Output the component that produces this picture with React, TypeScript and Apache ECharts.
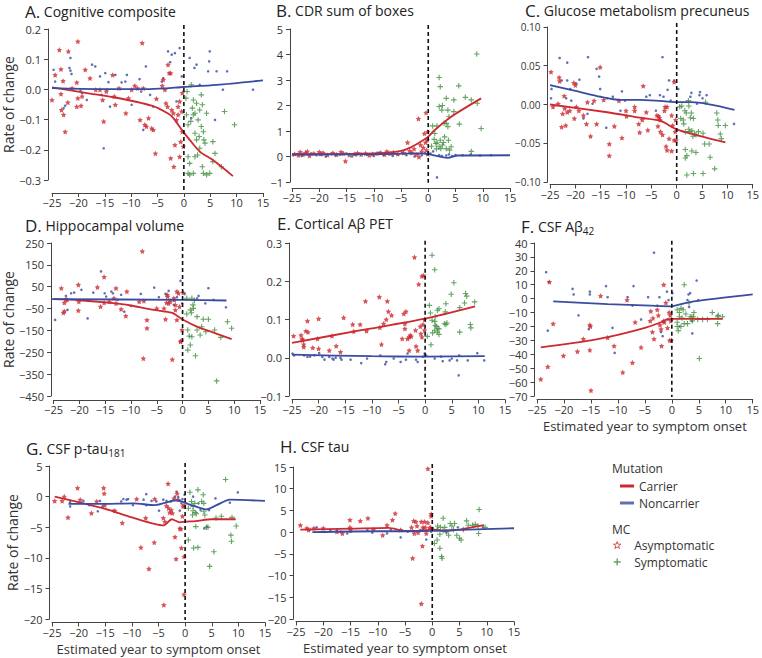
import React, { useEffect, useRef } from 'react';
import * as echarts from 'echarts';

const FONT = '"Open Sans", "Noto Sans", sans-serif';
const RED = '#cc2a30';
const BLUE = '#3a4ca0';
const GREEN = '#3f8d3c';
const AXIS = '#444';
const TXT = '#333';
const STAR = 'path://M0,-10L2.94,-4.05L9.51,-3.09L4.76,1.55L5.88,8.09L0,5L-5.88,8.09L-4.76,1.55L-9.51,-3.09L-2.94,-4.05Z';
const STAR_THIN = 'path://M0,-10L2.35,-3.24L9.51,-3.09L3.8,1.24L5.88,8.09L0,4L-5.88,8.09L-3.8,1.24L-9.51,-3.09L-2.35,-3.24Z';
const PLUS = 'path://M-1.2,-6L1.2,-6L1.2,-1.2L6,-1.2L6,1.2L1.2,1.2L1.2,6L-1.2,6L-1.2,1.2L-6,1.2L-6,-1.2L-1.2,-1.2Z';

const xTicks = { min: -25, max: 15, step: 5 };

// ---------- A. Cognitive composite ----------
const aAsym = [[-25.0,-0.035],[-24.4,0.048],[-23.6,0.131],[-23.3,0.067],[-23.3,-0.015],[-23.2,-0.068],[-22.8,-0.084],[-22.9,0.028],[-22.5,-0.140],[-22.0,-0.043],[-21.9,0.126],[-21.2,0.004],[-20.3,0.023],[-20.1,0.159],[-20.1,-0.029],[-20.3,-0.057],[-19.3,-0.023],[-19.5,-0.054],[-18.7,0.065],[-17.8,0.037],[-16.7,-0.001],[-15.9,-0.001],[-15.4,-0.035],[-15.2,-0.106],[-14.7,-0.007],[-13.5,0.048],[-13.2,-0.023],[-13.0,-0.051],[-12.3,0.004],[-11.0,-0.079],[-10.5,-0.029],[-9.9,-0.001],[-9.3,0.012],[-8.8,0.004],[-8.3,-0.101],[-7.9,0.154],[-7.7,0.004],[-7.4,-0.117],[-7.1,-0.123],[-6.7,-0.095],[-6.1,-0.129],[-5.8,-0.134],[-5.2,-0.031],[-3.9,0.032],[-4.1,0.012],[-3.6,-0.001],[-3.4,-0.046],[-3.1,-0.057],[-5.4,-0.212],[-3.0,0.082],[-2.8,0.054],[-2.5,0.054],[-2.5,-0.228],[-2.3,-0.068],[-2.0,-0.079],[-1.9,-0.256],[-1.7,-0.184],[-1.4,-0.101],[-1.1,-0.057],[-1.1,-0.084],[-0.8,-0.040],[-0.8,-0.223],[-0.6,-0.173],[-0.4,-0.073],[-0.3,-0.140],[-0.1,-0.189],[-0.3,-0.012]];
const aNon = [[-24.7,0.065],[-24.4,0.026],[-22.8,-0.062],[-22.5,-0.054],[-21.7,0.071],[-21.5,0.062],[-21.3,0.051],[-21.5,0.104],[-19.6,-0.004],[-19.3,-0.012],[-18.4,-0.035],[-17.4,0.082],[-16.8,0.076],[-15.9,0.043],[-15.6,-0.018],[-15.2,-0.195],[-14.9,0.054],[-14.3,0.024],[-14.6,-0.001],[-14.0,-0.057],[-13.0,0.048],[-11.8,0.023],[-11.1,0.026],[-10.8,0.048],[-9.9,-0.051],[-8.4,0.034],[-8.1,-0.007],[-7.7,-0.134],[-7.2,0.076],[-6.4,-0.018],[-5.8,-0.057],[-4.2,0.026],[-3.9,0.037],[-3.0,0.126],[-2.6,0.090],[-2.3,0.115],[-1.7,0.120],[-1.4,-0.040],[-0.8,0.137],[-0.4,0.043],[1.1,0.104],[1.4,-0.095],[2.0,0.071],[2.4,0.082],[3.0,0.015],[4.6,0.060],[4.8,0.093],[4.9,0.126],[5.9,-0.101],[6.2,0.060],[7.4,-0.001],[8.2,0.060],[13.1,-0.001]];
const aSym = [[0.4,-0.029],[0.6,-0.007],[1.4,0.015],[1.8,-0.035],[1.6,-0.062],[2.1,-0.079],[1.8,-0.084],[2.4,-0.046],[2.7,-0.101],[3.0,-0.068],[3.3,-0.018],[3.5,-0.051],[0.5,-0.084],[0.8,-0.117],[1.3,-0.106],[2.1,-0.145],[2.4,-0.167],[2.9,-0.156],[3.3,-0.123],[3.7,-0.140],[3.8,-0.167],[4.0,-0.178],[4.3,-0.079],[0.8,-0.223],[1.1,-0.245],[0.8,-0.278],[1.1,-0.283],[1.8,-0.278],[2.1,-0.223],[2.6,-0.217],[3.0,-0.195],[3.5,-0.256],[3.7,-0.278],[4.3,-0.283],[4.9,-0.278],[5.5,-0.239],[5.9,-0.212],[7.1,-0.256],[7.7,-0.073],[9.6,-0.117],[5.5,-0.173]];
const aCarrierLine = [[-25,0.007],[-18.4,-0.012],[-13.3,-0.026],[-6.1,-0.054],[-3,-0.08],[-2,-0.095],[-0.4,-0.134],[1.1,-0.167],[3,-0.206],[5.5,-0.234],[9.3,-0.287]];
const aNonLine = [[-25,0.004],[-15.9,0.001],[-6.4,0.001],[0,0.008],[6.2,0.015],[15,0.03]];

// ---------- B. CDR sum of boxes ----------
const bAsym = [[-24.5,0.1],[-23.8,0.05],[-23.5,0.18],[-23,0.08],[-22.5,0.15],[-22.2,0.2],[-21.8,0.03],[-21,0.12],[-20,0.18],[-19.8,0.1],[-19.3,0.15],[-18.5,0.06],[-17.5,0.14],[-16.8,0.08],[-16,0.18],[-15.6,0.12],[-15.2,-0.18],[-14.5,0.06],[-13.6,0.1],[-13,0.14],[-12.3,0.08],[-11.5,0.12],[-10.8,0.05],[-10.2,0.1],[-9.4,0.12],[-8.7,0.15],[-8,0.08],[-7.6,0.2],[-7,0.12],[-6.4,0.16],[-5.6,0.1],[-4.5,0.14],[-3.8,0.55],[-3.4,0.22],[-3,0.15],[-2.6,0.3],[-2.2,0.08],[-1.8,1.48],[-1.7,-0.02],[-1.4,0.45],[-1.2,0.2],[-0.9,0.35],[-0.7,0.9],[-0.5,0.55],[-0.4,1.72],[-0.3,0.25],[-0.2,0.65],[-0.1,0.97],[-0.1,0.1]];
const bNon = [[-24.8,0.05],[-24,0.1],[-23.2,0.02],[-22.5,0.08],[-21.5,0.12],[-20.5,0.05],[-19.5,0.06],[-18.8,0.0],[-17.8,0.1],[-17,0.03],[-16.2,0.07],[-15,0.12],[-14,0.0],[-13.2,0.05],[-12.5,0.1],[-11.2,0.06],[-10,0.02],[-9,0.15],[-8.2,0.05],[-7.3,0.1],[-6.5,0.02],[-5.5,0.08],[-4.8,0.15],[-4,0.05],[-3.2,0.12],[-2.5,0.0],[-1.8,0.1],[-1.2,0.05],[-0.6,0.15],[-0.2,0.08],[0.4,0.12],[0.9,0.2],[1.6,-0.82],[2,0.05],[2.5,0.02],[3.3,0.04],[3.8,0.08],[4.4,0.02],[5,0.06],[6.3,0.05],[7.8,0.08],[9.5,0.04],[11.5,0.05]];
const bSym = [[1.4,0.51],[0.8,1.2],[1.6,1.2],[2.0,3.1],[2.2,2.74],[2.0,1.96],[2.6,2.0],[3.3,2.28],[3.8,1.56],[2.9,1.3],[3.3,1.3],[3.6,1.17],[4.7,2.22],[5.6,2.77],[5.7,1.27],[4.7,1.76],[6.8,2.32],[7.9,2.22],[8.9,4.02],[9.0,2.09],[9.7,1.1],[7.9,0.2],[1.1,0.67],[1.6,0.54],[2.2,0.64],[2.6,0.45],[2.3,0.31],[3.3,0.31],[3.7,0.64],[4.2,0.38],[3.9,0.25],[1.5,0.3],[2.0,0.38],[3.0,0.77],[3.6,1.82],[2.5,1.82],[1.2,0.9],[0.6,0.4],[2.8,0.55]];
const bCarrierLine = [[-25,0.08],[-15,0.1],[-8,0.14],[-5,0.22],[-3.2,0.36],[-1.4,0.58],[0,0.78],[1.1,1.02],[4.2,1.56],[9.7,2.28]];
const bNonLine = [[-25,0.08],[-10,0.09],[-1.4,0.12],[0,0.09],[2.3,-0.01],[3.6,-0.05],[5.4,0.04],[15,0.05]];

// ---------- C. Glucose metabolism precuneus ----------
const cAsym = [[-24.8,0.042],[-24.4,-0.003],[-23.4,0.001],[-23.2,0.035],[-23.1,0.030],[-22.7,-0.029],[-22.5,-0.012],[-22.2,0.011],[-22.1,-0.005],[-21.9,-0.027],[-21.6,-0.010],[-21.1,-0.008],[-20.3,0.028],[-20.0,0.025],[-20.2,-0.018],[-19.8,-0.003],[-19.3,-0.008],[-18.4,-0.014],[-17.6,0.003],[-17.8,-0.025],[-17.0,-0.041],[-16.3,0.005],[-15.8,-0.025],[-15.1,0.048],[-14.4,0.006],[-13.3,-0.051],[-13.3,-0.066],[-12.3,-0.028],[-11.4,0.005],[-10.8,-0.043],[-10.0,-0.008],[-9.9,-0.015],[-8.3,-0.008],[-8.3,-0.003],[-7.5,-0.025],[-7.3,-0.036],[-6.6,0.024],[-6.8,-0.020],[-6.0,-0.010],[-5.7,-0.033],[-3.9,-0.014],[-3.7,-0.028],[-3.6,-0.015],[-3.4,-0.017],[-3.3,-0.020],[-3.2,-0.035],[-2.8,-0.039],[-2.4,-0.008],[-2.3,-0.003],[-2.1,-0.054],[-1.9,-0.003],[-1.9,-0.059],[-1.5,-0.044],[-1.0,-0.060],[-1.0,-0.014],[-0.8,-0.027],[-0.5,0.029],[-0.5,-0.046],[-0.3,-0.035],[-0.2,-0.020],[-0.1,-0.046]];
const cNon = [[-24.8,0.008],[-24.7,0.020],[-23.1,0.060],[-22.7,0.031],[-21.6,0.054],[-21.6,0.031],[-21.8,0.008],[-21.0,0.020],[-20.8,0.005],[-19.8,0.027],[-19.2,0.032],[-18.4,-0.018],[-17.5,0.061],[-17.6,-0.012],[-16.6,0.001],[-15.8,0.046],[-15.3,0.036],[-15.1,0.020],[-13.9,-0.030],[-13.7,0.008],[-12.6,0.010],[-10.8,0.017],[-11.1,-0.008],[-10.2,0.005],[-6.0,0.010],[-5.3,0.012],[-4.1,-0.008],[-3.3,0.012],[-2.8,0.061],[-2.6,0.010],[-1.8,0.019],[-1.5,0.031],[-1.2,0.005],[-0.5,0.031],[0.3,0.020],[2.7,0.010],[2.9,0.015],[4.6,0.016],[5.1,0.008],[5.9,0.012],[4.5,0.012],[4.0,0.001],[11.3,-0.025]];
const cSym = [[1.0,-0.002],[1.3,-0.020],[1.4,-0.025],[1.6,-0.008],[1.7,-0.035],[1.9,-0.011],[2.3,0.005],[2.4,-0.002],[2.4,-0.032],[2.6,-0.035],[2.7,-0.017],[2.9,-0.011],[3.0,-0.034],[3.2,-0.041],[3.3,-0.018],[3.5,-0.038],[3.8,-0.039],[4.3,-0.035],[1.7,-0.058],[2.0,-0.066],[1.7,-0.069],[2.0,-0.091],[3.0,-0.060],[3.8,-0.062],[5.2,-0.037],[5.5,-0.051],[5.7,0.003],[6.4,-0.051],[6.6,-0.068],[3.3,-0.089],[5.2,-0.089],[7.9,-0.011],[8.1,-0.020],[8.2,-0.027],[8.6,-0.038],[8.8,-0.044],[9.6,-0.027],[7.5,-0.083],[0.6,-0.003],[0.8,-0.018]];
const cCarrierLine = [[-25,0.0],[-13.7,-0.010],[-7.3,-0.017],[-3.1,-0.021],[-1.5,-0.027],[0,-0.032],[3,-0.038],[9.6,-0.049]];
const cNonLine = [[-25,0.025],[-20.2,0.018],[-15,0.010],[-11.1,0.006],[-7.3,0.006],[-4.1,0.005],[0,0.003],[3,0.003],[11.4,-0.007]];

// ---------- D. Hippocampal volume ----------
const dAsym = [[-23.5,43],[-23.1,-69],[-22.9,-62],[-22.9,-23],[-22.6,-7],[-22.4,-10],[-20.2,59],[-20.1,-18],[-20.2,-59],[-16.5,48],[-15.9,-41],[-15.2,95],[-15.2,-23],[-14.2,-18],[-13.3,-3],[-12.9,43],[-12.9,-26],[-11.9,-53],[-11.0,-84],[-10.8,28],[-8.4,-18],[-7.8,212],[-7.6,-278],[-7.5,-15],[-6.9,-102],[-6.9,-140],[-5.0,-49],[-3.6,-49],[-3.3,-99],[-3.1,-23],[-3.0,13],[-2.9,5],[-2.7,-26],[-2.4,-18],[-2.0,-283],[-1.7,-3],[-1.6,-10],[-1.4,-33],[-1.1,-102],[-1.1,28],[-0.8,20],[-0.6,-41],[-0.4,-202],[-0.3,-197],[-0.1,-148],[0.1,23],[-1.4,-56]];
const dNon = [[-24.7,-102],[-22.6,8],[-22.3,-56],[-21.6,20],[-21.0,23],[-19.6,36],[-18.4,-95],[-17.3,23],[-15.8,120],[-15.1,20],[-14.8,5],[-13.8,28],[-13.5,20],[-12.6,-10],[-11.9,13],[-11.3,-64],[-10.0,-38],[-8.1,17],[-5.5,46],[-4.6,2],[-3.3,17],[-2.7,31],[-2.4,-10],[-1.7,-33],[-1.1,2],[-0.4,77],[-0.1,-26],[0.4,17],[2.8,-3],[3.1,8],[4.4,-26],[5.0,43],[6.0,-10],[8.4,-44]];
const dSym = [[0.8,-3],[1.8,-3],[2.3,-13],[2.0,-33],[1.5,-56],[2.1,-49],[1.7,-69],[0.8,-75],[1.0,-148],[1.3,-176],[1.8,-179],[1.5,-217],[1.0,-240],[2.5,-266],[2.8,-148],[3.4,-171],[4.0,-99],[5.0,-99],[4.5,-156],[6.2,-148],[6.6,-381],[7.4,-182],[8.7,-110],[9.5,-140],[2.8,-87],[3.7,-133]];
const dCarrierLine = [[-25,-7],[-20,-12],[-15,-22],[-10,-36],[-7,-50],[-4,-62],[-2,-70],[0,-100],[3,-135],[6,-160],[9.5,-190]];
const dNonLine = [[-25.5,-7],[0,-10],[8.5,-13]];

// ---------- E. Cortical Aβ PET ----------
const eAsym = [[-24.7,0.057],[-23.3,0.059],[-23.1,0.050],[-23.0,0.046],[-22.8,0.035],[-22.8,0.028],[-22.4,0.070],[-22.1,0.096],[-22.0,0.067],[-21.1,0.026],[-20.2,0.050],[-20.0,0.102],[-20.0,0.024],[-18.0,0.019],[-17.5,0.057],[-16.7,0.031],[-15.9,0.015],[-15.3,0.105],[-13.6,0.087],[-13.4,0.069],[-12.2,0.087],[-11.2,0.148],[-11.0,0.070],[-8.6,0.159],[-8.5,0.079],[-8.2,0.035],[-7.8,0.089],[-7.3,0.100],[-7.1,0.148],[-6.9,0.121],[-6.3,0.111],[-4.3,0.050],[-4.0,0.115],[-3.6,0.121],[-3.8,0.089],[-3.8,0.076],[-3.3,0.050],[-3.0,0.054],[-2.8,0.059],[-3.0,0.019],[-2.6,0.056],[-2.0,0.263],[-1.8,0.072],[-1.7,0.030],[-1.4,0.019],[-1.2,0.192],[-0.9,0.082],[-0.8,0.063],[-0.6,0.054],[-0.6,0.213],[-0.4,0.087],[-0.3,0.215],[-0.1,0.072],[-0.1,0.100]];
const eNon = [[-24.9,0.011],[-24.6,0.006],[-22.7,0.006],[-22.1,0.002],[-21.6,0.003],[-20.8,0.006],[-19.9,0.012],[-19.3,0.002],[-18.9,-0.005],[-18.0,0.002],[-17.4,-0.002],[-17.2,-0.005],[-16.8,0.0],[-15.9,0.0],[-15.7,-0.005],[-14.0,-0.005],[-12.0,-0.014],[-10.9,-0.002],[-8.4,0.006],[-7.5,-0.017],[-7.3,-0.011],[-5.9,-0.002],[-4.6,-0.011],[-3.6,-0.005],[-3.3,0.011],[-1.7,-0.005],[-1.4,-0.011],[-0.4,0.003],[-0.1,0.011],[0.2,0.006],[1.8,-0.002],[3.0,0.003],[3.3,-0.009],[4.6,-0.007],[5.0,-0.002],[6.0,-0.007],[6.3,-0.046],[6.4,0.006],[8.0,-0.007],[9.8,0.012],[11.1,-0.007]];
const eSym = [[1.3,0.268],[1.8,0.230],[0.8,0.137],[1.0,0.117],[1.3,0.098],[1.1,0.034],[0.4,0.056],[1.4,0.065],[1.8,0.072],[1.8,0.095],[1.9,0.085],[1.9,0.107],[2.3,0.124],[2.4,0.076],[2.6,0.076],[2.3,0.067],[2.1,0.082],[2.6,0.061],[3.6,0.089],[3.8,0.120],[4.1,0.091],[3.9,0.087],[3.9,0.141],[4.9,0.166],[5.4,0.196],[6.5,0.067],[6.5,0.131],[7.4,0.143],[7.6,0.168],[7.8,0.161],[8.5,0.087],[8.6,0.078],[9.3,0.146],[2.6,0.128]];
const eCarrierLine = [[-25,0.039],[-12,0.072],[0,0.102],[9.4,0.134]];
const eNonLine = [[-25,0.008],[-10,0.004],[0,0.003],[11.2,0.004]];

// ---------- F. CSF Aβ42 ----------
const fAsym = [[-24.3,-58],[-23.0,-49],[-22.7,12],[-22.0,-18],[-20.1,-41],[-17.5,-38],[-16.4,-29],[-15.2,-37],[-15.2,-19],[-15.0,-66],[-15.1,-20],[-13.2,2],[-11.9,-28],[-10.7,-34],[-8.3,-1],[-9.1,-53],[-7.3,-46],[-6.8,-17],[-5.7,-35],[-4.0,-16],[-3.9,-9],[-3.6,-24],[-3.5,-14],[-3.3,-29],[-2.7,-8],[-2.5,-12],[-2.2,-19],[-2.0,-22],[-1.9,-34],[-1.5,10],[-1.5,-16],[-1.4,-17],[-1.1,-3],[-0.8,-21],[-0.5,-10],[-0.4,-30],[-0.3,-12],[-0.2,-16],[-0.1,-30]];
const fNon = [[-23.3,19],[-22.8,12],[-23.0,-23],[-18.4,7],[-18.2,3],[-17.3,-12],[-15.2,5],[-15.2,3],[-15.4,-22],[-12.2,9],[-11.9,1],[-11.0,-21],[-10.6,-39],[-8.2,1],[-7.1,9],[-7.3,-5],[-5.7,-15],[-4.4,1],[-3.3,33],[-2.7,-5],[-2.3,1],[-2.0,-24],[-1.7,-27],[-0.9,5],[-0.6,-1],[-0.8,-15],[0.1,4],[1.4,-20],[2.9,-1],[3.1,3],[3.4,4],[3.8,-25],[4.6,13],[4.9,-1],[3.7,-16],[3.2,-6]];
const fSym = [[1.0,-8],[1.4,-10],[1.7,-7],[2.1,-8],[2.3,10],[2.6,-11],[1.4,-13],[1.9,-14],[1.0,-20],[1.2,-23],[1.7,-20],[2.3,-18],[2.9,-18],[3.2,-3],[3.4,-13],[3.7,-13],[4.0,-13],[4.1,-10],[3.8,-16],[4.8,-15],[5.1,-43],[5.7,-15],[6.6,-15],[7.5,-10],[8.5,-13],[8.6,-12],[8.5,-18],[9.4,-13],[1.0,-17]];
const fCarrierLine = [[-24.3,-35],[-15,-30],[-10,-26],[-5,-21],[-2,-17],[-1,-15],[0,-14.5],[5,-14.5],[9.4,-14.5]];
const fNonLine = [[-22,-2],[-11.9,-4],[-3.9,-5],[0,-5.5],[1.7,-4],[4.1,-2],[15,3]];

// ---------- G. CSF p-tau181 ----------
const gAsym = [[-24.5,-0.7],[-23.1,-0.7],[-22.7,0.0],[-22.0,-3.4],[-20.2,1.4],[-19.7,-0.5],[-17.6,-2.7],[-16.6,-0.8],[-15.3,1.4],[-15.2,0.5],[-15.1,-1.4],[-13.2,-2.3],[-11.8,-4.3],[-9.1,-0.4],[-8.3,-8.3],[-7.4,-3.5],[-6.8,-11.8],[-5.8,-7.5],[-5.7,-0.4],[-4.1,-3.5],[-4.0,-17.7],[-3.8,-4.1],[-3.5,-1.5],[-3.2,2.1],[-3.1,-1.9],[-2.9,-2.6],[-2.6,-2.2],[-2.4,-2.7],[-2.1,-0.3],[-1.9,-6.6],[-1.7,-10.2],[-1.5,0.5],[-1.3,-0.5],[-1.0,-5.2],[-0.8,-5.3],[-0.7,-8.4],[-0.5,-3.2],[-0.4,-1.6],[-0.2,-9.8],[-0.2,-16.0],[-0.2,-1.4]];
const gNon = [[-21.6,-1.6],[-21.6,-0.9],[-19.1,-0.7],[-18.0,-1.4],[-16.4,-2.4],[-16.0,-0.7],[-15.5,-1.6],[-13.5,-2.3],[-12.0,-0.8],[-11.6,-0.4],[-11.0,-0.5],[-10.7,-0.4],[-9.8,-1.4],[-7.8,-0.5],[-7.3,0.4],[-7.3,-1.4],[-6.3,-0.7],[-5.4,-0.8],[-4.9,-2.3],[-4.1,-0.5],[-3.5,-0.7],[-2.7,-0.8],[-1.9,0.0],[-1.6,0.8],[-1.3,-0.1],[-1.0,-2.3],[-0.7,-1.1],[-0.5,-0.4],[-0.1,0.3],[1.5,0.0],[2.5,-1.1],[2.9,-2.2],[3.6,-5.2],[4.1,-4.9],[4.5,-2.2],[5.7,-0.3],[8.4,-1.0],[9.9,0.7]];
const gSym = [[0.6,-1.9],[0.9,0.7],[1.2,-0.8],[1.4,-3.0],[1.5,-1.6],[1.5,-2.3],[1.8,-1.1],[1.9,-2.6],[2.1,-2.8],[2.4,1.1],[2.0,-4.9],[1.6,-8.4],[2.4,-8.3],[0.6,-7.1],[3.1,-0.8],[3.4,0.3],[3.5,-2.4],[3.7,-3.0],[4.0,-5.0],[4.3,-5.0],[4.6,-11.4],[5.4,-9.0],[5.8,-3.5],[6.8,-3.2],[7.6,2.8],[8.6,-6.3],[8.7,-7.3],[9.6,-4.8],[8.8,-3.4],[3.5,-1.1]];
const gCarrierLine = [[-24.5,0],[-15,-2.0],[-10,-3.4],[-4,-4.7],[-2.5,-3.7],[-1,-4.2],[0,-4.1],[2,-4.0],[5,-3.7],[9.5,-3.7]];
const gNonLine = [[-21.9,-1.2],[-16,-1.2],[-9.7,-1.1],[-5.7,-1.4],[-1.6,-0.6],[0.9,-1.3],[3.4,-2.0],[4,-2.1],[5.9,-1.4],[8.4,-0.5],[15,-0.7]];

// ---------- H. CSF tau ----------
const hAsym = [[-24.2,1.6],[-23.0,0.9],[-22.7,0.5],[-21.7,0.9],[-20.0,0.9],[-17.5,0.1],[-16.5,-0.3],[-15.1,2.8],[-15.1,1.1],[-15.0,0.5],[-13.2,2.6],[-11.8,3.2],[-10.8,0.6],[-9.1,-0.7],[-8.3,1.6],[-7.3,2.8],[-6.8,4.3],[-5.8,0.5],[-3.8,1.1],[-3.6,-6.0],[-3.4,2.6],[-3.3,-0.3],[-3.0,2.4],[-2.8,1.4],[-2.6,-0.1],[-2.0,-16.5],[-2.0,2.4],[-1.8,-3.2],[-1.7,1.1],[-1.4,2.4],[-1.3,1.1],[-1.1,-0.3],[-0.8,14.6],[-0.8,2.2],[-0.3,1.1],[-0.2,4.2],[-0.2,3.7],[-0.5,0.9]];
const hNon = [[-22.4,0.6],[-21.2,1.1],[-18.7,0.5],[-17.5,0.5],[-16.8,0.1],[-15.6,-0.3],[-15.0,0.1],[-11.9,0.5],[-11.0,-0.1],[-8.3,-0.3],[-7.6,0.6],[-5.8,-1.2],[-4.5,0.1],[-3.6,0.3],[-2.2,0.5],[-1.7,0.6],[-1.1,-1.7],[-0.2,0.1],[0.1,0.9],[0.5,0.5],[1.0,0.6],[2.6,-0.1],[4.7,1.1],[5.7,0.6],[9.3,1.1]];
const hSym = [[0.4,-2.6],[0.9,-1.8],[1.0,1.4],[1.5,1.1],[1.4,-3.7],[1.7,-5.6],[1.8,-6.0],[2.0,3.2],[2.0,0.3],[2.3,1.1],[2.6,0.1],[3.0,-0.7],[3.3,2.0],[3.6,1.4],[3.9,0.6],[4.1,2.0],[4.5,-0.7],[5.0,-1.4],[5.3,-1.8],[5.7,0.6],[6.3,2.6],[6.6,1.6],[7.4,1.6],[7.9,1.8],[8.4,1.4],[8.5,-0.3],[8.6,5.2],[9.7,1.1],[0.9,0.6],[1.4,-0.5]];
const hCarrierLine = [[-24.2,0.6],[-15,0.8],[-8,1.0],[-5,0.3],[-2,0.3],[0,0.6],[2,0.3],[5,0.6],[9.5,1.6]];
const hNonLine = [[-22,0],[-10,0.2],[-5,0.2],[0,0.3],[5,0.5],[15,0.9]];

const panels = [
  { letter: 'A.', title: '{t|Cognitive composite}', asym: aAsym, non: aNon, sym: aSym, cl: aCarrierLine, nl: aNonLine, y: [-0.3, 0.2, 0.1], dec: 1, yFont: 11, grid: { left: 52, top: 29, width: 211, height: 151 }, xOff: 13, yOff: 4, tPos: [25, 3], yName: true, xName: false, dash: [0.066, 0.026] },
  { letter: 'B.', title: '{t|CDR sum of boxes}', asym: bAsym, non: bNon, sym: bSym, cl: bCarrierLine, nl: bNonLine, y: [-1, 5, 1], dec: 0, yFont: 11, grid: { left: 292, top: 29, width: 218, height: 153 }, xOff: 6, yOff: 2, tPos: [276, 2], yName: false, xName: false, dash: [0.005, 0.026] },
  { letter: 'C.', title: '{t|Glucose metabolism precuneus}', asym: cAsym, non: cNon, sym: cSym, cl: cCarrierLine, nl: cNonLine, y: [-0.1, 0.1, 0.05], dec: 2, yFont: 10, grid: { left: 550, top: 27, width: 206, height: 155 }, xOff: 2.5, yOff: 2.5, tPos: [525, 2], yName: false, xName: false, dash: [0, 0.026] },
  { letter: 'D.', title: '{t|Hippocampal volume}', asym: dAsym, non: dNon, sym: dSym, cl: dCarrierLine, nl: dNonLine, y: [-450, 250, 100], dec: 0, yFont: 11, grid: { left: 52, top: 243, width: 208, height: 153 }, xOff: 4, yOff: 2.5, tPos: [25, 217], yName: true, xName: false, dash: [0.026, 0.02] },
  { letter: 'E.', title: '{t|Cortical Aβ PET}', asym: eAsym, non: eNon, sym: eSym, cl: eCarrierLine, nl: eNonLine, y: [-0.1, 0.3, 0.1], dec: 1, yFont: 11, grid: { left: 292, top: 243, width: 213, height: 153 }, xOff: 3.5, yOff: 3, tPos: [277, 215], yName: false, xName: false, dash: [0.007, 0.015] },
  { letter: 'F.', title: '{t|CSF Aβ}{s|42}', asym: fAsym, non: fNon, sym: fSym, cl: fCarrierLine, nl: fNonLine, y: [-70, 40, 10], dec: 0, yFont: 11, grid: { left: 537, top: 243, width: 216, height: 153 }, xOff: 3.5, yOff: 2.5, tPos: [521, 218], yName: false, xName: true, dash: [0.007, 0.015] },
  { letter: 'G.', title: '{t|CSF p-tau}{s|181}', asym: gAsym, non: gNon, sym: gSym, cl: gCarrierLine, nl: gNonLine, y: [-20, 5, 5], dec: 0, yFont: 11, grid: { left: 52, top: 466, width: 213, height: 153 }, xOff: 3.5, yOff: 2.5, tPos: [26, 440], yName: true, xName: true, dash: [0.007, 0.02] },
  { letter: 'H.', title: '{t|CSF tau}', asym: hAsym, non: hNon, sym: hSym, cl: hCarrierLine, nl: hNonLine, y: [-20, 15, 5], dec: 0, yFont: 11, grid: { left: 296, top: 467, width: 218, height: 152 }, xOff: 2.5, yOff: 2.5, tPos: [280, 438], yName: false, xName: true, dash: [0.007, 0.02] },
];

const fmt = (dec: number) => (v: number) => {
  if (Math.abs(v) < 1e-9) v = 0;
  const s = Math.abs(v).toFixed(dec);
  return v < 0 ? '\u2212' + s : s;
};

function buildOption() {
  const grid: any[] = [];
  const xAxis: any[] = [];
  const yAxis: any[] = [];
  const series: any[] = [];
  const title: any[] = [];
  panels.forEach((p, i) => {
    grid.push({ ...p.grid, containLabel: false });
    xAxis.push({
      type: 'value', gridIndex: i, min: xTicks.min, max: xTicks.max, interval: xTicks.step, offset: p.xOff,
      axisLine: { show: true, onZero: false, lineStyle: { color: AXIS, width: 1 } },
      axisTick: { show: true, length: 4, lineStyle: { color: AXIS } },
      axisLabel: { fontSize: 11, color: TXT, margin: 4, formatter: fmt(0), fontFamily: FONT },
      splitLine: { show: false },
      name: p.xName ? 'Estimated year to symptom onset' : '',
      nameLocation: 'middle', nameGap: 20,
      nameTextStyle: { fontSize: 13, color: TXT, fontFamily: FONT },
    });
    const [ymin, ymax, ystep] = p.y;
    yAxis.push({
      type: 'value', gridIndex: i, min: ymin, max: ymax, interval: ystep, offset: p.yOff,
      axisLine: { show: true, onZero: false, lineStyle: { color: AXIS, width: 1 } },
      axisTick: { show: true, length: 4, lineStyle: { color: AXIS } },
      axisLabel: { fontSize: p.yFont, color: TXT, margin: 7, formatter: fmt(p.dec), fontFamily: FONT },
      splitLine: { show: false },
      name: p.yName ? 'Rate of change' : '',
      nameLocation: 'middle', nameGap: 29,
      nameTextStyle: { fontSize: 14, color: TXT, fontFamily: FONT },
    });
    title.push({
      text: '{l|' + p.letter + '} ' + p.title,
      left: p.tPos[0], top: p.tPos[1], padding: 0,
      textStyle: {
        fontFamily: FONT, fontSize: 14, lineHeight: 17, color: '#222', fontWeight: 'normal',
        rich: {
          l: { fontSize: 17, lineHeight: 17, color: '#222', fontFamily: FONT },
          t: { fontSize: 14, lineHeight: 17, color: '#222', fontFamily: FONT },
          s: { fontSize: 10, lineHeight: 10, color: '#222', fontFamily: FONT, padding: [8, 0, 0, 0] },
        },
      },
    });
    const common = { xAxisIndex: i, yAxisIndex: i, clip: false, animation: false };
    series.push({ ...common, type: 'scatter', name: 'Noncarrier', data: p.non, symbol: 'circle', symbolSize: 2.6, itemStyle: { color: BLUE }, z: 2 });
    series.push({ ...common, type: 'scatter', name: 'Asymptomatic', data: p.asym, symbol: STAR, symbolSize: 5.5, itemStyle: { color: RED, borderWidth: 0 }, z: 3 });
    series.push({ ...common, type: 'scatter', name: 'Symptomatic', data: p.sym, symbol: PLUS, symbolSize: 5.5, itemStyle: { color: GREEN }, z: 3 });
    series.push({ ...common, type: 'line', name: 'Carrier', data: p.cl, showSymbol: false, symbol: 'none', smooth: 0.25, lineStyle: { color: RED, width: 1.8 }, itemStyle: { color: RED }, z: 5 });
    series.push({ ...common, type: 'line', name: 'Noncarrier', data: p.nl, showSymbol: false, symbol: 'none', smooth: 0.25, lineStyle: { color: BLUE, width: 1.8 }, itemStyle: { color: BLUE }, z: 5 });
    const range = ymax - ymin;
    series.push({ ...common, type: 'line', name: 'onset', data: [[0, ymax + p.dash[1] * range], [0, ymin - p.dash[0] * range]], showSymbol: false, symbol: 'none', silent: true, lineStyle: { color: '#111', width: 1.6, type: [4, 3] }, z: 6 });
  });

  return {
    animation: false,
    backgroundColor: '#fff',
    textStyle: { fontFamily: FONT },
    title, grid, xAxis, yAxis, series,
    legend: [
      {
        left: 615, top: 474, orient: 'vertical', itemWidth: 14, itemHeight: 3, itemGap: 3, selectedMode: false,
        textStyle: { fontSize: 12, lineHeight: 14, color: TXT, fontFamily: FONT },
        data: [
          { name: 'Carrier', icon: 'rect', itemStyle: { color: RED } },
          { name: 'Noncarrier', icon: 'rect', itemStyle: { color: BLUE } },
        ],
      },
      {
        left: 608, top: 533, orient: 'vertical', itemWidth: 24, itemHeight: 7, itemGap: 3, selectedMode: false,
        textStyle: { fontSize: 12, lineHeight: 14, color: TXT, fontFamily: FONT },
        data: [
          { name: 'Asymptomatic', icon: STAR_THIN, itemStyle: { color: 'rgba(0,0,0,0)', borderColor: RED, borderWidth: 1 } },
          { name: 'Symptomatic', icon: PLUS, itemStyle: { color: GREEN } },
        ],
      },
    ],
    graphic: [
      { type: 'text', left: 612, top: 461, style: { text: 'Mutation', fontSize: 12, lineHeight: 14, fill: TXT, fontFamily: FONT } },
      { type: 'text', left: 612, top: 522, style: { text: 'MC', fontSize: 12, lineHeight: 14, fill: TXT, fontFamily: FONT } },
    ],
  };
}

export default function App() {
  const ref = useRef<HTMLDivElement>(null);
  useEffect(() => {
    if (!ref.current) return;
    const chart = echarts.init(ref.current, undefined, { renderer: 'svg' });
    chart.setOption(buildOption() as any);
    return () => chart.dispose();
  }, []);
  return <div ref={ref} style={{ position: 'absolute', left: 0, top: 0, width: 762, height: 658 }} />;
}
